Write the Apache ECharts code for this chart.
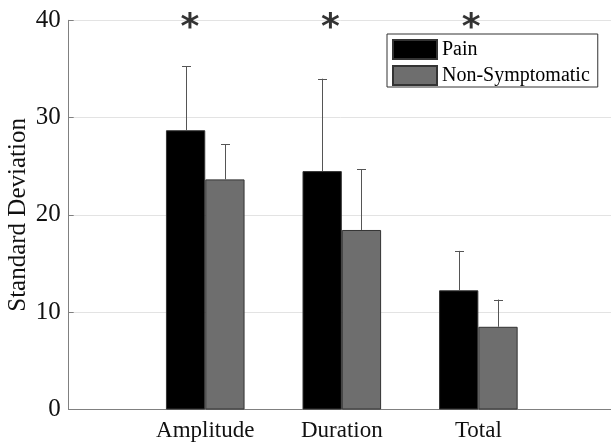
<!DOCTYPE html>
<html><head><meta charset="utf-8">
<script src="https://cdn.jsdelivr.net/npm/echarts@6/dist/echarts.min.js"></script>
<style>html,body{margin:0;padding:0;background:#fff}#c{width:611px;height:443px}</style>
</head><body><div id="c"></div>
<script>
// ---- data ----
const categories = ['Amplitude', 'Duration', 'Total'];
const seriesNames = ['Pain', 'Non-Symptomatic'];
const painMean = [28.7, 24.5, 12.25];
const painSD = [6.6, 9.5, 4.05];
const nonMean = [23.65, 18.45, 8.5];
const nonSD = [3.6, 6.25, 2.8];
const yTicks = [0, 10, 20, 30, 40];
const starX = [0.88, 1.91, 2.94];
const starY = [40, 40, 40];

// ---- build ----
const FONT = 'Liberation Serif';
const axisCats = [''].concat(categories, ['']);
const pad = arr => ['-'].concat(arr, ['-']);
const BAR_W = 39.3;

function errData(mean, sd) {
  return mean.map((m, i) => [i + 1, m, sd[i]]);
}
function errRender(side) {
  return function (params, api) {
    const x = api.value(0), m = api.value(1), e = api.value(2);
    const p0 = api.coord([x, m]);
    const p1 = api.coord([x, m + e]);
    const cx = Math.round(p0[0] + side * BAR_W / 2) + 0.5;
    const cap = 4.5;
    const st = { stroke: '#555555', lineWidth: 1, fill: null };
    return {
      type: 'group',
      children: [
        { type: 'line', shape: { x1: cx, y1: p0[1], x2: cx, y2: p1[1] }, style: st },
        { type: 'line', shape: { x1: cx - cap, y1: Math.round(p1[1]) + 0.5, x2: cx + cap, y2: Math.round(p1[1]) + 0.5 }, style: st }
      ]
    };
  };
}

const chart = echarts.init(document.getElementById('c'), null, { renderer: 'canvas' });
chart.setOption({
  animation: false,
  backgroundColor: '#ffffff',
  grid: { left: 68.7, right: -3.9, top: 20.3, bottom: 33.5, containLabel: false, outerBoundsMode: 'none' },
  legend: {
    orient: 'vertical', left: 387, top: 34,
    data: seriesNames,
    icon: 'rect', itemWidth: 44, itemHeight: 19, itemGap: 5,
    padding: [5, 8, 1, 5],
    borderColor: '#333333', borderWidth: 1, backgroundColor: '#ffffff',
    textStyle: { fontFamily: FONT, fontSize: 20, color: '#000', lineHeight: 20 }
  },
  xAxis: [
    {
      type: 'category', data: axisCats, boundaryGap: false,
      axisLine: { lineStyle: { color: '#808080', width: 1 } },
      axisTick: { show: false },
      axisLabel: { fontFamily: FONT, fontSize: 23, color: '#111', margin: 10, interval: 0 },
      splitLine: { show: false }
    },
    { type: 'value', min: 0, max: 4, show: false }
  ],
  yAxis: {
    type: 'value', min: yTicks[0], max: yTicks[yTicks.length - 1], interval: 10,
    name: 'Standard Deviation', nameLocation: 'middle', nameGap: 38, nameMoveOverlap: false,
    nameTextStyle: { fontFamily: FONT, fontSize: 25, color: '#111' },
    axisLine: { show: true, lineStyle: { color: '#808080', width: 1 } },
    axisTick: { show: true, inside: true, length: 5, lineStyle: { color: '#808080' } },
    axisLabel: { fontFamily: FONT, fontSize: 25, color: '#111', margin: 8 },
    splitLine: { show: true, lineStyle: { color: '#e3e3e3', width: 1 } }
  },
  series: [
    {
      name: seriesNames[0], type: 'bar', data: pad(painMean),
      barWidth: BAR_W, barGap: '0%',
      itemStyle: { color: '#000000', borderColor: '#333333', borderWidth: 1 }
    },
    {
      name: seriesNames[1], type: 'bar', data: pad(nonMean),
      barWidth: BAR_W, barGap: '0%',
      itemStyle: { color: '#6e6e6e', borderColor: '#333333', borderWidth: 1 }
    },
    {
      type: 'custom', renderItem: errRender(-1), data: errData(painMean, painSD),
      encode: { x: 0, y: [1, 2] }, z: 3, silent: true
    },
    {
      type: 'custom', renderItem: errRender(1), data: errData(nonMean, nonSD),
      encode: { x: 0, y: [1, 2] }, z: 3, silent: true
    },
    {
      type: 'scatter', xAxisIndex: 1, symbolSize: 1, itemStyle: { color: 'rgba(0,0,0,0)' },
      data: starX.map((x, i) => [x, starY[i]]),
      label: {
        show: true, position: 'inside', formatter: '*',
        fontFamily: 'DejaVu Sans', fontWeight: 'bold', fontSize: 36, color: '#000',
        offset: [1, 8]
      },
      z: 5, silent: true
    }
  ]
});
</script></body></html>
